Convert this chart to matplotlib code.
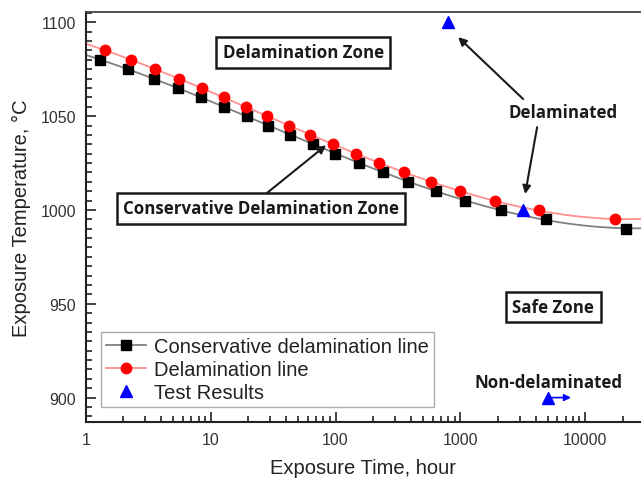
import numpy as np
import matplotlib.pyplot as plt
from matplotlib.ticker import MultipleLocator, LogLocator, NullFormatter

plt.rcParams['font.family'] = ['Liberation Sans', 'DejaVu Sans']

# conservative delamination line (hour, deg C)
cons_time = [1.29, 2.16, 3.5, 5.5, 8.4, 12.8, 19.4, 29, 43.5, 66,
             99, 155, 238, 380, 637, 1094, 2118, 4887, 21280]
cons_temp = [1080, 1075, 1070, 1065, 1060, 1055, 1050, 1045, 1040, 1035,
             1030, 1025, 1020, 1015, 1010, 1005, 1000, 995, 990]

# delamination line
dela_time = [1.42, 2.3, 3.6, 5.6, 8.5, 12.8, 19.2, 28, 42.5, 63,
             95, 145, 224, 355, 584, 1000, 1880, 4240, 17250]
dela_temp = [1085, 1080, 1075, 1070, 1065, 1060, 1055, 1050, 1045, 1040,
             1035, 1030, 1025, 1020, 1015, 1010, 1005, 1000, 995]

# test results
test_time = [800, 3200, 5000]
test_temp = [1100, 1000, 900]

xmin, xmax = 1, 28000
ymin, ymax = 887, 1105.5

fig = plt.figure(figsize=(6.41, 4.81), dpi=100)
ax = fig.add_axes([0.134, 0.1206, 0.866, 0.8524])
ax.set_xscale('log')


def fit_curve(t, T, deg=3):
    coef = np.polyfit(np.log10(t), T, deg)
    lt = np.linspace(np.log10(xmin), np.log10(xmax), 300)
    return 10 ** lt, np.polyval(coef, lt)


cx, cy = fit_curve(cons_time, cons_temp)
dx, dy = fit_curve(dela_time, dela_temp)
ax.plot(cx, cy, color='#808080', lw=1.3, zorder=2)
ax.plot(dx, dy, color='#ff9090', lw=1.3, zorder=2)
ax.plot(cons_time, cons_temp, 's', color='black', ms=6.5, zorder=3)
ax.plot(dela_time, dela_temp, 'o', color='red', ms=7.5, zorder=3)
ax.plot(test_time, test_temp, '^', color='blue', ms=8, zorder=4)

# legend entries (line + marker)
h1, = ax.plot([], [], '-s', color='#808080', mfc='black', mec='black', ms=6.5, lw=1.3)
h2, = ax.plot([], [], '-o', color='#ff9090', mfc='red', mec='red', ms=7.5, lw=1.3)
h3, = ax.plot([], [], '^', color='blue', ms=8)
leg = ax.legend([h1, h2, h3],
                ['Conservative delamination line', 'Delamination line', 'Test Results'],
                loc='lower left', bbox_to_anchor=(0.027, 0.037), borderaxespad=0,
                fontsize=14.5, frameon=True, fancybox=False, handlelength=2.0,
                handletextpad=0.4, labelspacing=0.2, borderpad=0.25)
leg.get_frame().set_edgecolor('#999999')
leg.get_frame().set_linewidth(1.0)
for t in leg.get_texts():
    t.set_color('#222222')

ax.set_xlim(xmin, xmax)
ax.set_ylim(ymin, ymax)
ax.set_xticks([1, 10, 100, 1000, 10000])
ax.set_xticklabels(['1', '10', '100', '1000', '10000'])
ax.xaxis.set_minor_locator(LogLocator(base=10, subs=np.arange(2, 10)))
ax.xaxis.set_minor_formatter(NullFormatter())
ax.yaxis.set_major_locator(MultipleLocator(50))
ax.yaxis.set_minor_locator(MultipleLocator(5))

ax.tick_params(which='both', direction='in', width=1.2, colors='#222222',
               labelsize=11.5, labelcolor='#333333', top=False, right=False)
ax.tick_params(which='major', length=7, pad=7)
ax.tick_params(which='minor', length=4)
ax.spines['right'].set_visible(False)
for s in ['left', 'bottom']:
    ax.spines[s].set_linewidth(1.5)
    ax.spines[s].set_color('#222222')
ax.spines['top'].set_linewidth(1.3)
ax.spines['top'].set_color('#444444')

ax.set_xlabel('Exposure Time, hour', fontsize=14.5, color='#222222', labelpad=8)
ax.set_ylabel('Exposure Temperature, \u00b0C', fontsize=14.5, color='#222222', labelpad=7)

# zone labels
note = dict(family=['Open Sans', 'DejaVu Sans'], fontweight='bold', fontsize=12.2,
            color='#1a1a1a', ha='center', va='center')
box = dict(boxstyle='square,pad=0.38', fc='white', ec='#1a1a1a', lw=1.8)
ax.text(55, 1084, 'Delamination Zone', bbox=box, zorder=5, **note)
ax.text(25.3, 1001, 'Conservative Delamination Zone', bbox=box, zorder=5, **note)
ax.text(5543, 948.3, 'Safe Zone', bbox=box, zorder=5, **note)
ax.text(6668, 1052, 'Delaminated', zorder=5, **note)
ax.text(5049, 908.4, 'Non-delaminated', zorder=5, **note)

arrow = dict(arrowstyle='-|>', color='#1a1a1a', lw=1.5, mutation_scale=12,
             shrinkA=0, shrinkB=0)
ax.annotate('', xy=(84, 1034.5), xytext=(28.2, 1009), arrowprops=arrow, zorder=4)
ax.annotate('', xy=(960, 1092.1), xytext=(3185, 1059.1), arrowprops=arrow)
ax.annotate('', xy=(3304, 1008.5), xytext=(4121, 1044.1), arrowprops=arrow)

# run-out marker on the non-delaminated test
ax.annotate('', xy=(7700, 900), xytext=(5400, 900),
            arrowprops=dict(arrowstyle='-|>', color='blue', lw=1.2,
                            mutation_scale=10, shrinkA=0, shrinkB=0))

fig.savefig('out.png', dpi=100)
